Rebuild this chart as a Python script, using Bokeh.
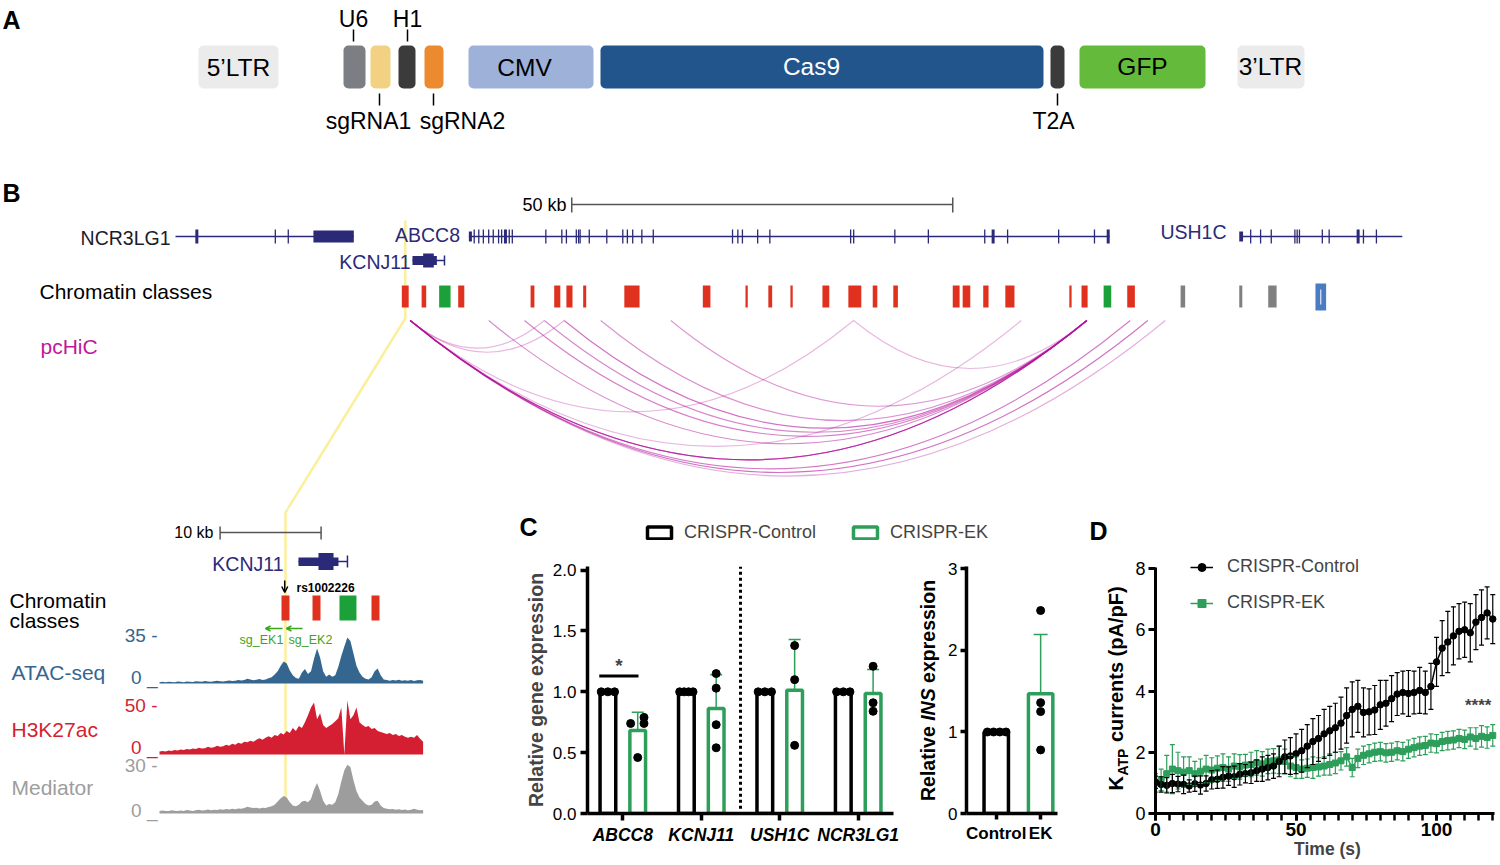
import numpy as np
from bokeh.plotting import figure
from bokeh.models import (Range1d, ColumnDataSource, Label, Whisker, TeeHead, OpenHead,
                          Arrow, Legend, LegendItem, FixedTicker, PrintfTickFormatter)
from bokeh.layouts import row, column
from bokeh.embed import file_html
from bokeh.resources import INLINE

# ======================= DATA =======================
# Panel A - lentiviral CRISPR construct
construct_parts = ["5’LTR", "U6", "sgRNA1", "H1", "sgRNA2", "CMV", "Cas9", "T2A", "GFP", "3’LTR"]
construct_colors = ["#ebebeb", "#7b7f83", "#f2d183", "#3b3b3b", "#eb8a2f",
                    "#9db1d9", "#21558b", "#3b3b3b", "#64bb3b", "#ebebeb"]

# Panel B (top) - locus, genomic positions in kb
ncr3lg1_span = (0.0, 23.4)
ncr3lg1_exons = [13.1, 14.8]
ncr3lg1_wide = [2.8]
ncr3lg1_utr = (18.1, 23.4)
abcc8_span = (38.5, 122.6)
abcc8_exons = [39.2, 39.8, 40.4, 41.1, 41.7, 42.4, 42.8, 43.8, 44.2, 48.6, 50.7, 51.3,
               52.6, 52.9, 53.1, 54.3, 56.6, 58.7, 59.3, 60.0, 61.2, 62.7, 73.1, 73.8,
               74.4, 76.4, 78.0, 88.6, 89.0, 94.4, 98.8, 106.2, 109.2, 115.9, 120.6]
abcc8_wide = [43.3, 107.3, 122.4]
abcc8_utr = (38.5, 38.9)
ush1c_span = (139.8, 161.0)
ush1c_exons = [141.1, 142.4, 143.8, 146.9, 147.2, 147.5, 150.5, 151.4, 155.9, 157.6]
ush1c_wide = [155.2]
ush1c_utr = (139.6, 140.1)
kcnj11_span = (31.1, 35.3)
kcnj11_utr = (31.1, 34.3)
kcnj11_cds = (32.5, 33.9)

chrom_start = [29.7, 32.3, 34.6, 37.1, 46.6, 49.7, 51.3, 53.5, 58.9, 69.2, 74.8, 77.8, 80.7,
               84.9, 88.3, 91.5, 94.2, 102.0, 103.3, 106.0, 108.9, 117.3, 118.9, 121.8,
               124.9, 131.9, 139.6, 143.4, 149.6]
chrom_end = [30.6, 32.9, 36.1, 37.9, 47.1, 50.5, 52.1, 53.9, 60.9, 70.2, 75.1, 78.3, 81.0,
             85.8, 90.0, 92.1, 94.8, 102.9, 104.3, 106.7, 110.1, 117.6, 119.7, 122.8,
             125.9, 132.5, 140.0, 144.5, 151.0]
chrom_class = ["E", "E", "P", "E", "E", "E", "E", "E", "E", "E", "E", "E", "E", "E", "E",
               "E", "E", "E", "E", "E", "E", "E", "E", "P", "E", "I", "I", "I", "C"]

arc_from_kb = [30.8, 30.8, 30.8, 30.8, 30.8, 30.8, 30.8, 30.8, 30.8,
               41.1, 45.8, 48.4, 51.0, 55.8, 65.0, 89.0]
arc_to_kb = [48.4, 51.0, 89.0, 111.0, 119.6, 119.6, 125.3, 127.6, 129.9,
             119.6, 119.6, 119.6, 119.6, 119.6, 119.6, 119.6]
arc_score = [0.30, 0.30, 0.30, 0.30, 0.95, 0.85, 0.70, 0.75, 0.35,
             0.60, 0.65, 0.60, 0.75, 0.55, 0.50, 0.30]

# Panel B (bottom) - zoom on KCNJ11 enhancer, kb
zkcnj11_utr = (13.76, 17.72)
zkcnj11_cds = (15.74, 17.23)
zkcnj11_end = 18.61
rs1002226_kb = 12.4
zchrom_start = [12.08, 15.15, 17.82, 20.99]
zchrom_end = [12.87, 15.94, 19.50, 21.78]
zchrom_class = ["E", "E", "P", "E"]
sg_names = ["sg_EK1", "sg_EK2"]
sg_from = [12.18, 14.16]
sg_to = [10.50, 12.57]

track_kb = [round(0.3 * i, 1) for i in range(88)]
atac = [1.0, 1.2, 1.0, 1.3, 1.1, 1.0, 1.4, 1.2, 1.0, 1.5, 1.3, 1.1, 1.6, 1.4, 1.2, 1.8,
        1.5, 1.3, 1.6, 2.0, 1.6, 1.4, 1.9, 2.2, 1.8, 2.0, 2.6, 2.2, 2.5, 3.4, 3.0, 2.4,
        2.8, 3.2, 2.6, 3.0, 3.8, 4.5, 6.5, 9.0, 13.0, 16.0, 14.5, 9.5, 6.0, 4.0, 3.5, 8.0,
        10.5, 7.0, 9.0, 18.0, 25.5, 19.0, 9.0, 5.0, 6.5, 5.0, 6.0, 12.0, 20.0, 27.0, 33.5,
        31.0, 22.0, 13.0, 8.0, 5.0, 3.5, 3.0, 4.5, 9.0, 11.0, 6.0, 3.0, 2.5, 2.0, 2.6,
        2.2, 2.8, 2.0, 2.4, 2.0, 2.5, 1.8, 2.4, 2.6, 2.0]
h3k27ac = [3.0, 3.5, 3.0, 4.0, 3.5, 4.5, 4.0, 5.0, 4.5, 5.5, 5.0, 6.0, 5.5, 7.0, 6.0, 6.5,
           8.0, 7.0, 7.5, 9.0, 8.0, 8.5, 10.0, 9.0, 11.0, 10.0, 12.0, 11.0, 13.0, 12.5,
           14.0, 13.0, 15.0, 16.5, 15.0, 17.0, 18.5, 17.0, 20.0, 19.0, 22.0, 20.5, 24.0,
           22.0, 27.0, 24.0, 29.0, 27.0, 33.0, 40.0, 48.0, 53.0, 36.0, 42.0, 30.0, 27.0,
           29.0, 31.0, 34.0, 37.0, 48.0, 0.0, 55.0, 36.0, 40.0, 48.0, 33.0, 30.0, 28.0,
           29.0, 26.0, 27.0, 24.0, 23.0, 22.0, 21.0, 22.0, 20.0, 21.0, 19.0, 20.0, 18.0,
           17.0, 18.0, 17.0, 20.0, 16.0, 13.0]
mediator = [1.5, 1.8, 1.5, 1.6, 2.0, 1.7, 1.5, 1.9, 1.6, 2.2, 1.8, 1.6, 2.0, 2.3, 1.8, 2.1,
            2.5, 2.0, 2.4, 2.2, 2.6, 2.3, 2.8, 2.5, 3.0, 2.7, 3.2, 3.0, 3.5, 4.2, 3.8, 3.4,
            3.6, 3.2, 3.6, 3.4, 4.0, 4.5, 5.5, 7.5, 9.5, 11.0, 10.0, 7.0, 5.0, 4.5, 5.5, 7.5,
            8.0, 7.0, 9.0, 15.0, 19.0, 14.0, 8.0, 5.0, 6.0, 5.5, 7.0, 12.0, 20.0, 27.0, 30.5,
            29.0, 21.0, 14.0, 10.0, 8.0, 6.0, 5.0, 5.5, 7.5, 8.0, 5.0, 3.5, 3.0, 2.6, 2.8,
            2.4, 2.6, 2.2, 2.5, 2.0, 2.3, 3.0, 2.4, 2.0, 2.2]

# Panel C - relative expression (qPCR replicates)
genes = ["ABCC8", "KCNJ11", "USH1C", "NCR3LG1"]
ctrl_expr = [[1.0, 1.0, 1.0], [1.0, 1.0, 1.0, 1.0], [1.0, 1.0, 1.0], [1.0, 1.0, 1.0]]
ek_expr = [[0.74, 0.46, 0.79, 0.74], [1.15, 1.03, 0.73, 0.54], [1.38, 1.10, 0.56], [1.21, 0.91, 0.84]]
ins_groups = ["Control", "EK"]
ins_ctrl = [1.0, 1.0, 1.0, 1.0]
ins_ek = [2.49, 1.36, 1.25, 0.78]

# Panel D - KATP currents
time_s = list(range(0, 121, 2))
katp_ctrl = [1.02, 0.95, 0.92, 0.98, 0.96, 0.95, 0.90, 0.97, 0.93, 0.98,
             1.10, 1.12, 1.18, 1.22, 1.20, 1.28, 1.30, 1.33, 1.40, 1.45,
             1.50, 1.55, 1.70, 1.85, 1.88, 1.95, 2.05, 2.20, 2.35, 2.45,
             2.60, 2.70, 2.80, 2.95, 3.20, 3.40, 3.50, 3.30, 3.32, 3.38,
             3.55, 3.60, 3.75, 3.90, 3.95, 3.92, 3.95, 4.02, 3.95, 4.15,
             4.95, 5.40, 5.60, 5.80, 5.95, 6.00, 5.90, 6.25, 6.40, 6.55,
             6.35]
katp_ctrl_err = [0.20, 0.25, 0.25, 0.30, 0.25, 0.30, 0.20, 0.25, 0.30, 0.25,
                 0.30, 0.30, 0.35, 0.30, 0.35, 0.35, 0.30, 0.35, 0.35, 0.40,
                 0.40, 0.40, 0.50, 0.55, 0.60, 0.65, 0.70, 0.70, 0.75, 0.75,
                 0.80, 0.80, 0.80, 0.85, 0.90, 0.90, 0.85, 0.80, 0.75, 0.80,
                 0.80, 0.75, 0.75, 0.70, 0.70, 0.75, 0.70, 0.75, 0.70, 0.75,
                 0.80, 0.90, 1.00, 0.95, 0.90, 0.90, 0.95, 0.90, 0.90, 0.85,
                 0.80]
katp_ek = [1.00, 1.10, 1.30, 1.45, 1.40, 1.35, 1.40, 1.30, 1.38, 1.45,
           1.42, 1.48, 1.50, 1.45, 1.55, 1.52, 1.58, 1.60, 1.65, 1.62,
           1.70, 1.72, 1.75, 1.70, 1.55, 1.50, 1.45, 1.48, 1.50, 1.52,
           1.55, 1.60, 1.65, 1.72, 1.85, 1.50, 1.80, 1.90, 1.95, 2.00,
           2.02, 1.98, 2.00, 2.05, 2.02, 2.10, 2.15, 2.20, 2.22, 2.30,
           2.28, 2.35, 2.38, 2.40, 2.45, 2.42, 2.50, 2.45, 2.52, 2.48,
           2.55]
katp_ek_err = [0.30, 0.35, 0.60, 0.80, 0.60, 0.50, 0.45, 0.40, 0.40, 0.45,
               0.40, 0.40, 0.45, 0.40, 0.40, 0.40, 0.35, 0.40, 0.40, 0.40,
               0.40, 0.40, 0.45, 0.40, 0.35, 0.35, 0.30, 0.30, 0.35, 0.30,
               0.30, 0.35, 0.35, 0.30, 0.30, 0.30, 0.30, 0.30, 0.30, 0.30,
               0.30, 0.30, 0.30, 0.30, 0.30, 0.30, 0.30, 0.30, 0.30, 0.30,
               0.30, 0.30, 0.30, 0.30, 0.30, 0.30, 0.30, 0.35, 0.35, 0.35,
               0.35]

# ======================= STYLE / LAYOUT =======================
SANS = "Liberation Sans"
NAVY = "#2b2a78"
CLASS_COLORS = {"E": "#e0301e", "P": "#1ca13a", "I": "#808080", "C": "#4a7cc4"}
MAGENTA = "#b5159c"
YELLOW = "#fcef9c"
CTRL_COL = "#000000"
EK_COL = "#2e9e5b"
ATAC_COL = "#356690"
H3_COL = "#d41f33"
MED_COL = "#9d9d9d"

TOP_W, TOP_H = 1500, 508
BOT_Y0 = TOP_H
BOT_H = 356
BB_W = 508
CM_W, CIL_W, CI_W = 402, 35, 125
DL_W, D_W = 60, 369
LEG_H = 45

KB0_PX, PX_PER_KB = 175.0, 7.62       # locus view
TRK0_PX, PX_PER_KB_Z = 159.0, 10.1    # zoomed view
ARC_BASE_Y = 320
ARC_DEPTH = 0.206
ROT = np.pi / 2


def canvas(w, h, x0, y0):
    p = figure(width=w, height=h, x_range=Range1d(x0, x0 + w), y_range=Range1d(y0 + h, y0),
               x_axis_type=None, y_axis_type=None, output_backend="svg",
               toolbar_location=None, min_border=0, outline_line_color=None)
    p.background_fill_color = "white"
    p.border_fill_color = "white"
    p.frame_align = False
    return p


def label(p, x, y, text, size, color="black", style="normal",
          align="left", baseline="middle", angle=0.0):
    p.add_layout(Label(x=x, y=y, text=text, text_font_size=f"{size}px", text_color=color,
                       text_font=SANS, text_font_style=style, text_align=align,
                       text_baseline=baseline, angle=angle))


connector_x = [KB0_PX + PX_PER_KB * (chrom_start[0] + chrom_end[0]) / 2] * 2 + \
              [TRK0_PX + PX_PER_KB_Z * (zchrom_start[0] + zchrom_end[0]) / 2] * 2
connector_y = [220, 318, 512, 812]

# ======================= TOP FIGURE (A + B locus) =======================
top = canvas(TOP_W, TOP_H, 0, 0)
top.extra_x_ranges = {"kb": Range1d(-KB0_PX / PX_PER_KB, (TOP_W - KB0_PX) / PX_PER_KB)}

# --- Panel A ---
label(top, 11, 19, "A", 25, style="bold", align="center")
part_left = [198, 343, 370, 398, 424, 468, 600, 1050, 1079, 1237]
part_right = [278, 365, 390, 415, 443, 593, 1043, 1064, 1205, 1304]
top.quad(left=part_left, right=part_right, top=45, bottom=88,
         fill_color=construct_colors, line_color=None, border_radius=5)
inside = {0: (238, 67, "black"), 5: (524, 67, "black"), 6: (811, 66, "white"),
          8: (1142, 66, "black"), 9: (1270, 66, "black")}
for i, (x, y, c) in inside.items():
    label(top, x, y, construct_parts[i], 24.5, color=c, align="center")
above = {1: 353, 3: 407}
for i, x in above.items():
    label(top, x, 18, construct_parts[i], 23, align="center")
    top.line(x=[x, x], y=[29, 41], line_color="black", line_width=1.5)
below = {2: (379, 368), 4: (433, 462), 7: (1057, 1053)}
for i, (tx, lx) in below.items():
    top.line(x=[tx, tx], y=[93, 105], line_color="black", line_width=1.5)
    label(top, lx, 120, construct_parts[i], 23, align="center")

# --- Panel B: locus ---
top.line(x=connector_x, y=connector_y, line_color=YELLOW, line_width=2.5)
label(top, 11, 192, "B", 25, style="bold", align="center")
label(top, 566, 204, "50 kb", 18, align="right")
top.line(x=[52, 102], y=[204, 204], line_color="#555555", line_width=1.5, x_range_name="kb")
top.segment(x0=[52, 102], x1=[52, 102], y0=[197, 197], y1=[212, 212],
            line_color="#555555", line_width=1.5, x_range_name="kb")


def draw_gene(p, span, exons, wide, utr, y, utr_h=10, tick_h=14):
    p.line(x=list(span), y=[y, y], line_color=NAVY, line_width=1.5, x_range_name="kb")
    n = len(exons)
    if n:
        p.segment(x0=exons, x1=exons, y0=[y - tick_h / 2] * n, y1=[y + tick_h / 2] * n,
                  line_color=NAVY, line_width=1.3, x_range_name="kb")
    m = len(wide)
    if m:
        p.segment(x0=wide, x1=wide, y0=[y - tick_h / 2] * m, y1=[y + tick_h / 2] * m,
                  line_color=NAVY, line_width=3, x_range_name="kb")
    p.quad(left=[utr[0]], right=[utr[1]], top=[y - utr_h / 2], bottom=[y + utr_h / 2],
           fill_color=NAVY, line_color=None, x_range_name="kb")


draw_gene(top, ncr3lg1_span, ncr3lg1_exons, ncr3lg1_wide, ncr3lg1_utr, 236, utr_h=12)
draw_gene(top, abcc8_span, abcc8_exons, abcc8_wide, abcc8_utr, 236, utr_h=10)
draw_gene(top, ush1c_span, ush1c_exons, ush1c_wide, ush1c_utr, 236, utr_h=10)
label(top, 170, 237, "NCR3LG1", 19.5, color="#1c1c2a", align="right")
label(top, 427, 234, "ABCC8", 19.5, color=NAVY, align="center")
label(top, 1193, 231, "USH1C", 19.5, color=NAVY, align="center")
# KCNJ11
top.line(x=[kcnj11_utr[0], kcnj11_span[1]], y=[260, 260], line_color=NAVY, line_width=1.5, x_range_name="kb")
top.segment(x0=[kcnj11_span[1]], x1=[kcnj11_span[1]], y0=[255], y1=[265], line_color=NAVY,
            line_width=1.5, x_range_name="kb")
top.quad(left=[kcnj11_utr[0]], right=[kcnj11_utr[1]], top=[255.5], bottom=[264.5],
         fill_color=NAVY, line_color=None, x_range_name="kb")
top.quad(left=[kcnj11_cds[0]], right=[kcnj11_cds[1]], top=[253], bottom=[267],
         fill_color=NAVY, line_color=None, x_range_name="kb")
label(top, 410, 261, "KCNJ11", 19.5, color=NAVY, align="right")

# chromatin classes
label(top, 39, 291, "Chromatin classes", 21)
ccols = [CLASS_COLORS[c] for c in chrom_class]
ctop = [283 if c == "C" else 285 for c in chrom_class]
cbot = [310 if c == "C" else 307 for c in chrom_class]
top.quad(left=chrom_start, right=chrom_end, top=ctop, bottom=cbot, fill_color=ccols,
         line_color=None, x_range_name="kb")
cx_c = [(s + e) / 2 for s, e, c in zip(chrom_start, chrom_end, chrom_class) if c == "C"]
top.segment(x0=cx_c, x1=cx_c, y0=[289] * len(cx_c), y1=[304] * len(cx_c),
            line_color="white", line_width=1, x_range_name="kb")

# pcHiC arcs
label(top, 40, 346, "pcHiC", 21, color="#c0189a")
arc_depth = [ARC_DEPTH * (b - a) * PX_PER_KB for a, b in zip(arc_from_kb, arc_to_kb)]
top.quadratic(x0=arc_from_kb, y0=[ARC_BASE_Y] * len(arc_from_kb),
              x1=arc_to_kb, y1=[ARC_BASE_Y] * len(arc_to_kb),
              cx=[(a + b) / 2 for a, b in zip(arc_from_kb, arc_to_kb)],
              cy=[ARC_BASE_Y + 2 * dd for dd in arc_depth],
              line_color=MAGENTA, line_alpha=[0.12 + 0.65 * s for s in arc_score],
              line_width=1.1, x_range_name="kb")

# ======================= BOTTOM-LEFT (B zoom) =======================
bb = canvas(BB_W, BOT_H, 0, BOT_Y0)
bb.extra_x_ranges = {"kb": Range1d(-TRK0_PX / PX_PER_KB_Z, (BB_W - TRK0_PX) / PX_PER_KB_Z)}


def track_range(base_px, top_px, vmax):
    s = (base_px - top_px) / vmax
    return Range1d((base_px - (BOT_Y0 + BOT_H)) / s, (base_px - BOT_Y0) / s)


bb.extra_y_ranges = {"atac": track_range(683, 635, 35), "h3": track_range(754, 705, 50),
                     "med": track_range(813, 765, 30)}
bb.line(x=connector_x, y=connector_y, line_color=YELLOW, line_width=2.5)

label(bb, 213, 532, "10 kb", 16, align="right")
bb.line(x=[6, 16], y=[532, 532], line_color="#555555", line_width=1.5, x_range_name="kb")
bb.segment(x0=[6, 16], x1=[6, 16], y0=[526, 526], y1=[539, 539], line_color="#555555",
           line_width=1.5, x_range_name="kb")
# KCNJ11 zoomed
bb.line(x=[zkcnj11_utr[0], zkcnj11_end], y=[561, 561], line_color=NAVY, line_width=1.5, x_range_name="kb")
bb.segment(x0=[zkcnj11_end], x1=[zkcnj11_end], y0=[555], y1=[567], line_color=NAVY,
           line_width=1.5, x_range_name="kb")
bb.quad(left=[zkcnj11_utr[0]], right=[zkcnj11_utr[1]], top=[557], bottom=[565.5],
        fill_color=NAVY, line_color=None, x_range_name="kb")
bb.quad(left=[zkcnj11_cds[0]], right=[zkcnj11_cds[1]], top=[552.5], bottom=[569.5],
        fill_color=NAVY, line_color=None, x_range_name="kb")
label(bb, 283, 563, "KCNJ11", 19.5, color=NAVY, align="right")
bb.add_layout(Arrow(x_start=rs1002226_kb, y_start=580, x_end=rs1002226_kb, y_end=592,
                    line_color="black", line_width=1.5, x_range_name="kb",
                    end=OpenHead(size=6, line_color="black", line_width=1.5)))
label(bb, 296, 587, "rs1002226", 12, style="bold")
label(bb, 9, 600, "Chromatin", 21)
label(bb, 9, 620, "classes", 21)
bb.quad(left=zchrom_start, right=zchrom_end, top=595, bottom=620,
        fill_color=[CLASS_COLORS[c] for c in zchrom_class], line_color=None, x_range_name="kb")
sg_label_x = [261, 310]
for nm, a, b, lx in zip(sg_names, sg_from, sg_to, sg_label_x):
    bb.add_layout(Arrow(x_start=a, y_start=628, x_end=b, y_end=628, line_color="#3ba51c",
                        line_width=1.5, x_range_name="kb",
                        end=OpenHead(size=5, line_color="#3ba51c", line_width=1.5)))
    label(bb, lx, 639, nm, 12.5, color="#3ba51c", align="center")

for vals, rng, col in [(atac, "atac", ATAC_COL), (h3k27ac, "h3", H3_COL), (mediator, "med", MED_COL)]:
    bb.varea(x=track_kb, y1=0, y2=vals, fill_color=col, x_range_name="kb", y_range_name=rng)

for txt, y, col in [("35 -", 635, ATAC_COL), ("0 _", 677, ATAC_COL), ("50 -", 705, H3_COL),
                    ("0 _", 747, H3_COL), ("30 -", 765, MED_COL), ("0 _", 810, MED_COL)]:
    label(bb, 157, y, txt, 19, color=col, align="right")
label(bb, 11, 672, "ATAC-seq", 21, color=ATAC_COL)
label(bb, 11, 729, "H3K27ac", 21, color=H3_COL)
label(bb, 11, 787, "Mediator", 21, color=MED_COL)


# ======================= helpers for charts =======================
def style_axes(p, tick_size=17, lw=3.5, tick_len=7):
    for ax in p.axis:
        ax.axis_line_width = lw
        ax.axis_line_color = "black"
        ax.major_tick_line_width = lw
        ax.major_tick_line_color = "black"
        ax.major_tick_out = tick_len
        ax.major_tick_in = 0
        ax.minor_tick_line_color = None
        ax.major_label_text_font = SANS
        ax.major_label_text_font_size = f"{tick_size}px"
        ax.major_label_text_color = "black"
        ax.major_label_standoff = 4
    p.grid.visible = False
    p.frame_align = False


# ======================= C legend strip =======================
CX0 = BB_W
cl = canvas(CM_W + CIL_W + CI_W, LEG_H, CX0, BOT_Y0)
label(cl, 528, 526, "C", 25, style="bold", align="center")
r_ctrl = cl.vbar(x=[600], top=[540], bottom=[530], width=10, fill_color="white",
                 line_color=CTRL_COL, line_width=3.5, visible=False)
r_ek = cl.vbar(x=[600], top=[540], bottom=[530], width=10, fill_color="white",
               line_color=EK_COL, line_width=3.5, visible=False)
cl.add_layout(Legend(items=[LegendItem(label="CRISPR-Control", renderers=[r_ctrl]),
                            LegendItem(label="CRISPR-EK", renderers=[r_ek])],
                     orientation="horizontal", location=(644 - CX0, 10), padding=0, margin=0,
                     spacing=34, glyph_width=30, glyph_height=15, label_height=15,
                     label_standoff=10, label_text_font=SANS, label_text_font_size="18px",
                     inactive_fill_alpha=0, border_line_color=None, background_fill_alpha=0))

# ======================= C main =======================
CH = BOT_H - LEG_H
cm = figure(width=CM_W, height=CH, x_range=Range1d(-0.45, 3.45),
            y_range=Range1d(0, 2.03), output_backend="svg", toolbar_location=None,
            min_border_left=79, min_border_right=17, min_border_top=13, min_border_bottom=CH - 13 - 247,
            outline_line_color=None)
style_axes(cm)
cm.yaxis.ticker = FixedTicker(ticks=[0, 0.5, 1.0, 1.5, 2.0])
cm.yaxis.formatter = PrintfTickFormatter(format="%.1f")
cm.yaxis.axis_label = "Relative gene expression"
cm.yaxis.axis_label_text_font = SANS
cm.yaxis.axis_label_text_font_style = "bold"
cm.yaxis.axis_label_text_font_size = "19.5px"
cm.yaxis.axis_label_standoff = 3
cm.xaxis.ticker = FixedTicker(ticks=[0, 1, 2, 3])
cm.xaxis.major_label_overrides = {i: g for i, g in enumerate(genes)}
cm.xaxis.major_label_text_font_style = "bold italic"
cm.xaxis.major_label_text_font_size = "17.5px"

OFF = 0.19
xc = [i - OFF for i in range(len(genes))]
xe = [i + OFF for i in range(len(genes))]
ek_mean = [float(np.mean(v)) for v in ek_expr]
ek_sd = [float(np.std(v, ddof=1)) for v in ek_expr]
ctrl_mean = [float(np.mean(v)) for v in ctrl_expr]
cm.vbar(x=xc, top=ctrl_mean, width=0.2, bottom=0, fill_color="white", line_color=CTRL_COL, line_width=3.5)
cm.vbar(x=xe, top=ek_mean, width=0.2, bottom=0, fill_color="white", line_color=EK_COL, line_width=3.5)
cm.add_layout(Whisker(source=ColumnDataSource(dict(b=xe, lo=ek_mean, up=[m + s for m, s in zip(ek_mean, ek_sd)])),
                      base="b", lower="lo", upper="up", line_color=EK_COL, line_width=1.5,
                      upper_head=TeeHead(size=12, line_color=EK_COL, line_width=1.5), lower_head=None))
ek_jitter = [[-0.09, 0.0, 0.08, 0.08], [0, 0, 0, 0], [0, 0, 0], [0, 0, 0]]
dx, dy = [], []
for i, v in enumerate(ctrl_expr):
    dx += list(xc[i] + np.linspace(-0.085, 0.085, len(v)))
    dy += v
for i, v in enumerate(ek_expr):
    dx += [xe[i] + j for j in ek_jitter[i]]
    dy += v
cm.scatter(x=dx, y=dy, size=8, marker="circle", fill_color="black", line_color="black")
cm.line(x=[-0.30, 0.20], y=[1.13, 1.13], line_color="black", line_width=3)
cm.add_layout(Label(x=-0.05, y=1.22, text="*", text_font=SANS, text_font_style="bold",
                    text_font_size="19px", text_align="center", text_baseline="middle"))
cm.line(x=[1.5, 1.5], y=[0.04, 2.03], line_color="black", line_width=3, line_dash="3 3")

# ======================= C INS =======================
CIL_X0 = CX0 + CM_W
cil = canvas(CIL_W, CH, CIL_X0, BOT_Y0 + LEG_H)
for txt, y0, st in [("Relative", 800.5, "bold"), ("INS", 720.3, "bold italic"), ("expression", 682.4, "bold")]:
    label(cil, 927, y0, txt, 19.5, style=st, angle=ROT)

ci = figure(width=CI_W, height=CH, x_range=Range1d(-0.67, 1.38),
            y_range=Range1d(0, 3.03), output_backend="svg", toolbar_location=None,
            min_border_left=20, min_border_right=13, min_border_top=13, min_border_bottom=CH - 13 - 247,
            outline_line_color=None)
style_axes(ci, tick_len=6)
ci.yaxis.ticker = FixedTicker(ticks=[0, 1, 2, 3])
ci.yaxis.major_label_standoff = 3
ci.xaxis.ticker = FixedTicker(ticks=[0, 1])
ci.xaxis.major_label_overrides = {i: g for i, g in enumerate(ins_groups)}
ci.xaxis.major_label_text_font_style = "bold"
ins_means = [float(np.mean(ins_ctrl)), float(np.mean(ins_ek))]
ins_sd = float(np.std(ins_ek, ddof=1))
ci.vbar(x=[0, 1], top=ins_means, width=0.55, bottom=0, fill_color="white",
        line_color=[CTRL_COL, EK_COL], line_width=3.5)
ci.add_layout(Whisker(source=ColumnDataSource(dict(b=[1], lo=[ins_means[1] - ins_sd], up=[ins_means[1] + ins_sd])),
                      base="b", lower="lo", upper="up", line_color=EK_COL, line_width=1.5,
                      upper_head=TeeHead(size=14, line_color=EK_COL, line_width=1.5),
                      lower_head=TeeHead(size=14, line_color=EK_COL, line_width=1.5)))
ci.scatter(x=list(np.linspace(-0.2, 0.22, len(ins_ctrl))) + [1.0] * len(ins_ek),
           y=ins_ctrl + ins_ek, size=8, marker="circle", fill_color="black", line_color="black")

# ======================= D =======================
DX0 = CX0 + CM_W + CIL_W + CI_W
dl = canvas(DL_W, BOT_H, DX0, BOT_Y0)
label(dl, 1098, 530, "D", 25, style="bold", align="center")
label(dl, 1115, 790, "K", 20, style="bold", angle=ROT)
label(dl, 1122, 775, "ATP", 14, style="bold", angle=ROT)
label(dl, 1115, 741.5, "currents (pA/pF)", 20, style="bold", angle=ROT)

D_FRAME_TOP = 548
D_ZERO = 813
D_PX_PER_UNIT = 30.625
d = figure(width=D_W, height=BOT_H, x_range=Range1d(0, 122.4),
           y_range=Range1d(0, (D_ZERO - D_FRAME_TOP) / D_PX_PER_UNIT),
           output_backend="svg", toolbar_location=None, min_border_left=25, min_border_right=0,
           min_border_top=D_FRAME_TOP - BOT_Y0, min_border_bottom=BOT_Y0 + BOT_H - D_ZERO,
           outline_line_color=None)
style_axes(d, tick_size=18, lw=3, tick_len=7)
d.xaxis.bounds = (0, 120.5)
d.yaxis.bounds = (0, 8.03)
d.xaxis.ticker = FixedTicker(ticks=[0, 50, 100], minor_ticks=list(range(0, 121, 5)))
d.xaxis.minor_tick_line_color = "black"
d.xaxis.minor_tick_line_width = 2.5
d.xaxis.minor_tick_out = 7
d.xaxis.minor_tick_in = 0
d.xaxis.major_label_text_font_style = "bold"
d.xaxis.major_label_text_font_size = "19px"
d.xaxis.major_label_standoff = 2
d.xaxis.axis_label = "Time (s)"
d.xaxis.axis_label_text_font = SANS
d.xaxis.axis_label_text_font_style = "bold"
d.xaxis.axis_label_text_font_size = "17.5px"
d.xaxis.axis_label_standoff = 0
d.yaxis.ticker = FixedTicker(ticks=[0, 2, 4, 6, 8])
d.yaxis.major_label_standoff = 3

for mean, err, col in [(katp_ek, katp_ek_err, EK_COL), (katp_ctrl, katp_ctrl_err, CTRL_COL)]:
    src = ColumnDataSource(dict(t=time_s, lo=[m - e for m, e in zip(mean, err)],
                                up=[m + e for m, e in zip(mean, err)]))
    d.add_layout(Whisker(source=src, base="t", lower="lo", upper="up", line_color=col,
                         line_width=1.2, level="glyph",
                         upper_head=TeeHead(size=5, line_color=col, line_width=1.2),
                         lower_head=TeeHead(size=5, line_color=col, line_width=1.2)))
l_ek = d.line(x=time_s, y=katp_ek, line_color=EK_COL, line_width=1.5)
s_ek = d.scatter(x=time_s, y=katp_ek, marker="square", size=6, fill_color=EK_COL, line_color=EK_COL)
l_ct = d.line(x=time_s, y=katp_ctrl, line_color=CTRL_COL, line_width=1.5)
s_ct = d.scatter(x=time_s, y=katp_ctrl, marker="circle", size=6.5, fill_color=CTRL_COL, line_color=CTRL_COL)
d.add_layout(Legend(items=[LegendItem(label="CRISPR-Control", renderers=[l_ct, s_ct]),
                           LegendItem(label="CRISPR-EK", renderers=[l_ek, s_ek])],
                    location=(35, D_ZERO - 613), padding=0, margin=0, spacing=15, glyph_width=23,
                    glyph_height=20, label_height=20, label_standoff=14, label_text_font=SANS,
                    label_text_font_size="18px", border_line_color=None, background_fill_alpha=0))
d.add_layout(Label(x=114.8, y=3.52, text="****", text_font=SANS, text_font_style="bold",
                   text_font_size="17px", text_align="center", text_baseline="middle"))

layout = column(top, row(bb, column(cl, row(cm, cil, ci)), dl, d))
open("out.html", "w").write(file_html(layout, INLINE, title="CRISPR KCNJ11 enhancer"))
